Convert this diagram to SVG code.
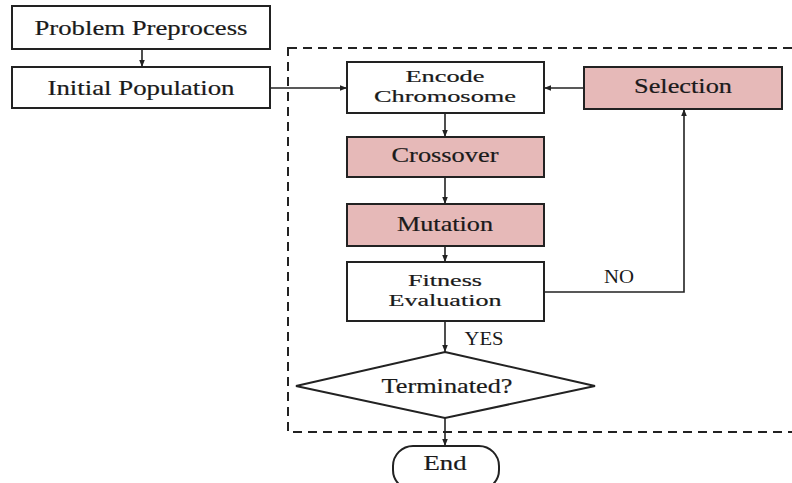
<svg xmlns="http://www.w3.org/2000/svg" width="792" height="483" viewBox="0 0 792 483">
<style>
.box{fill:#fff;stroke:#222;stroke-width:2}
.pink{fill:#e6b9b8;stroke:#222;stroke-width:2}
.t{font-family:"Liberation Serif","Times New Roman",serif;font-size:21px;fill:#1a1a1a;stroke:#1a1a1a;stroke-width:0.2;text-anchor:middle}
.t2{font-family:"Liberation Serif","Times New Roman",serif;font-size:17px;fill:#1a1a1a;stroke:#1a1a1a;stroke-width:0.2;text-anchor:middle}
.s{font-family:"Liberation Serif","Times New Roman",serif;font-size:18px;fill:#1a1a1a;text-anchor:middle}
.c{fill:none;stroke:#222;stroke-width:1.6}
.dash{fill:none;stroke:#222;stroke-width:2;stroke-dasharray:9 6}
</style>
<defs>
<marker id="ah" viewBox="0 0 10 10" refX="10" refY="5" markerWidth="7" markerHeight="7" markerUnits="userSpaceOnUse" orient="auto">
<path d="M0,1 L10,5 L0,9 z" fill="#222"/>
</marker>
</defs>
<rect width="792" height="483" fill="#fff"/>
<rect id="loop" class="dash" x="288" y="48" width="520" height="384"/>
<g id="connectors">
<line class="c" x1="142" y1="49" x2="142" y2="67" marker-end="url(#ah)"/>
<line class="c" x1="270" y1="88" x2="347" y2="88" marker-end="url(#ah)"/>
<line class="c" x1="584" y1="88" x2="544" y2="88" marker-end="url(#ah)"/>
<line class="c" x1="445" y1="113" x2="445" y2="137" marker-end="url(#ah)"/>
<line class="c" x1="445" y1="177" x2="445" y2="204" marker-end="url(#ah)"/>
<line class="c" x1="445" y1="246" x2="445" y2="262" marker-end="url(#ah)"/>
<line class="c" x1="445" y1="321" x2="445" y2="352" marker-end="url(#ah)"/>
<line class="c" x1="445" y1="418" x2="445" y2="446" marker-end="url(#ah)"/>
<polyline class="c" points="544,292 684,292 684,109" marker-end="url(#ah)"/>
<text class="s" x="619" y="283" textLength="30" lengthAdjust="spacingAndGlyphs">NO</text>
<text class="s" x="484" y="345" textLength="39" lengthAdjust="spacingAndGlyphs">YES</text>
</g>
<g id="problem-preprocess">
<rect class="box" x="12" y="6" width="258" height="43"/>
<text class="t" x="141" y="35" textLength="213" lengthAdjust="spacingAndGlyphs">Problem Preprocess</text>
</g>
<g id="initial-population">
<rect class="box" x="12" y="67" width="258" height="41"/>
<text class="t" x="141" y="95" textLength="187" lengthAdjust="spacingAndGlyphs">Initial Population</text>
</g>
<g id="encode-chromosome">
<rect class="box" x="347" y="62" width="197" height="51"/>
<text class="t2" x="445" y="82" textLength="79" lengthAdjust="spacingAndGlyphs">Encode</text>
<text class="t2" x="445" y="102" textLength="142" lengthAdjust="spacingAndGlyphs">Chromosome</text>
</g>
<g id="selection">
<rect class="pink" x="584" y="67" width="198" height="42"/>
<text class="t" x="683" y="93" textLength="98" lengthAdjust="spacingAndGlyphs">Selection</text>
</g>
<g id="crossover">
<rect class="pink" x="347" y="137" width="197" height="40"/>
<text class="t" x="445" y="162" textLength="107" lengthAdjust="spacingAndGlyphs">Crossover</text>
</g>
<g id="mutation">
<rect class="pink" x="347" y="204" width="197" height="42"/>
<text class="t" x="445" y="231" textLength="96" lengthAdjust="spacingAndGlyphs">Mutation</text>
</g>
<g id="fitness-evaluation">
<rect class="box" x="347" y="262" width="197" height="59"/>
<text class="t2" x="445" y="286" textLength="74" lengthAdjust="spacingAndGlyphs">Fitness</text>
<text class="t2" x="445" y="306" textLength="113" lengthAdjust="spacingAndGlyphs">Evaluation</text>
</g>
<g id="terminated">
<polygon class="box" points="445,352 595,386 445,418 296,386"/>
<text class="t" x="447" y="393" textLength="131" lengthAdjust="spacingAndGlyphs">Terminated?</text>
</g>
<g id="end">
<rect class="box" x="393" y="446" width="106" height="44" rx="20" ry="20"/>
<text class="t" x="445" y="470" textLength="43" lengthAdjust="spacingAndGlyphs">End</text>
</g>
</svg>
